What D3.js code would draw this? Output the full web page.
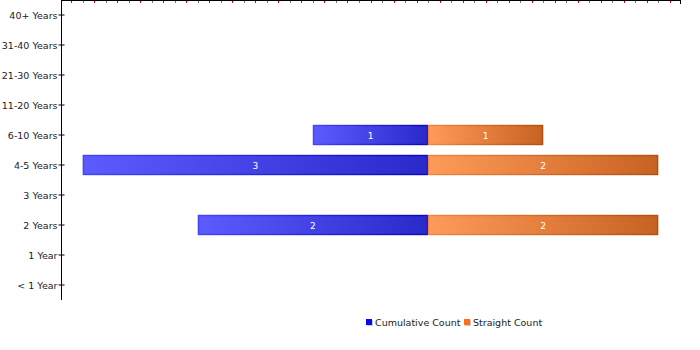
<!DOCTYPE html>
<html>
<head>
<meta charset="utf-8">
<script src="https://cdn.jsdelivr.net/npm/d3@7"></script>
<style>
  html, body { margin: 0; padding: 0; background: #fff; }
  svg { display: block; font-family: "DejaVu Sans", Verdana, sans-serif; }
</style>
</head>
<body>
<svg id="chart" width="700" height="350"></svg>
<script>
// Tenure bands, top to bottom
const categories = ["40+ Years", "31-40 Years", "21-30 Years", "11-20 Years", "6-10 Years",
                    "4-5 Years", "3 Years", "2 Years", "1 Year", "< 1 Year"];
// Cumulative counts are drawn to the left of zero, straight counts to the right
const cumulativeCount = [0, 0, 0, 0, 1, 3, 0, 2, 0, 0];
const straightCount   = [0, 0, 0, 0, 1, 2, 0, 2, 0, 0];
const seriesNames = ["Cumulative Count", "Straight Count"];
const xDomain = [-3.19, 2.19];

const svg = d3.select("#chart");
const plotLeft = 61, plotRight = 680, plotTop = 0, plotBottom = 300;

const x = d3.scaleLinear().domain(xDomain).range([plotLeft, plotRight]);
const y = d3.scaleBand().domain(categories).range([plotTop, plotBottom]).paddingInner(1/3).paddingOuter(1/6);

// gradients
const defs = svg.append("defs");
function grad(id, c0, c1) {
  const g = defs.append("linearGradient").attr("id", id)
    .attr("x1", "0%").attr("x2", "100%").attr("y1", "0%").attr("y2", "0%");
  g.append("stop").attr("offset", "0%").attr("stop-color", c0);
  g.append("stop").attr("offset", "100%").attr("stop-color", c1);
}
grad("blueFill", "#5b5bff", "#2a2acb");
grad("blueStroke", "#4444fa", "#0808c4");
grad("orangeFill", "#ff9b58", "#c86222");
grad("orangeStroke", "#f28440", "#b44e0c");

// Top axis: baseline with alternating minor ticks
const topTicks = d3.range(Math.ceil(xDomain[0] * 10), Math.floor(xDomain[1] * 10) + 1).map(d => d / 10);
svg.append("line").attr("x1", plotLeft).attr("x2", plotRight).attr("y1", 0.5).attr("y2", 0.5)
  .attr("stroke", "#000").attr("stroke-width", 1);
svg.append("g").selectAll("line").data(topTicks).join("line")
  .attr("x1", d => Math.round(x(d)) + 0.5).attr("x2", d => Math.round(x(d)) + 0.5)
  .attr("y1", 1).attr("y2", 3)
  .attr("stroke", d => Math.round(d * 10) % 2 === 0 ? "#777" : "#e00000");
svg.append("line").attr("x1", plotRight + 0.5).attr("x2", plotRight + 0.5).attr("y1", 0).attr("y2", 4)
  .attr("stroke", "#000");

// Left axis
const yAxis = d3.axisLeft(y).tickSize(3).tickPadding(2);
const ga = svg.append("g").attr("transform", `translate(${plotLeft + 0.5},0)`).call(yAxis);
ga.select(".domain").attr("d", `M0,${plotTop}V${plotBottom}`).attr("stroke", "#000");
ga.selectAll(".tick line").attr("x1", -3).attr("x2", 3).attr("stroke", "#000");
ga.selectAll(".tick text").attr("font-size", 9.5).attr("fill", "#222")
  .attr("font-family", "DejaVu Sans, Verdana, sans-serif").attr("x", -4).attr("dy", "0.42em");

// Bars
const rows = categories.map((c, i) => ({ c, cum: cumulativeCount[i], str: straightCount[i] }));
const barG = svg.append("g");
rows.filter(d => d.cum > 0).forEach(d => {
  barG.append("rect")
    .attr("x", x(-d.cum) + 0.5).attr("y", y(d.c) + 0.5)
    .attr("width", x(0) - x(-d.cum) - 1).attr("height", y.bandwidth() - 1)
    .attr("fill", "url(#blueFill)").attr("stroke", "url(#blueStroke)").attr("stroke-width", 1.4);
  barG.append("text")
    .attr("x", (x(-d.cum) + x(0)) / 2).attr("y", y(d.c) + y.bandwidth() / 2 + 3.5)
    .attr("text-anchor", "middle").attr("font-size", 9).attr("fill", "#fff").text(d.cum);
});
rows.filter(d => d.str > 0).forEach(d => {
  barG.append("rect")
    .attr("x", x(0) + 0.5).attr("y", y(d.c) + 0.5)
    .attr("width", x(d.str) - x(0) - 1).attr("height", y.bandwidth() - 1)
    .attr("fill", "url(#orangeFill)").attr("stroke", "url(#orangeStroke)").attr("stroke-width", 1.4);
  barG.append("text")
    .attr("x", (x(0) + x(d.str)) / 2).attr("y", y(d.c) + y.bandwidth() / 2 + 3.5)
    .attr("text-anchor", "middle").attr("font-size", 9).attr("fill", "#fff").text(d.str);
});

// Legend
const legendColors = ["#0a0af0", "#ff6f0f"];
const legendX = [366, 464];
const lg = svg.append("g");
seriesNames.forEach((name, i) => {
  lg.append("rect").attr("x", legendX[i] + 1).attr("y", 320).attr("width", 6).attr("height", 6).attr("fill", "#ccc");
  lg.append("rect").attr("x", legendX[i]).attr("y", 319).attr("width", 6).attr("height", 6).attr("fill", legendColors[i]);
  lg.append("text").attr("x", legendX[i] + 9).attr("y", 326).attr("font-size", 9.5).attr("fill", "#222").text(name);
});
</script>
</body>
</html>
